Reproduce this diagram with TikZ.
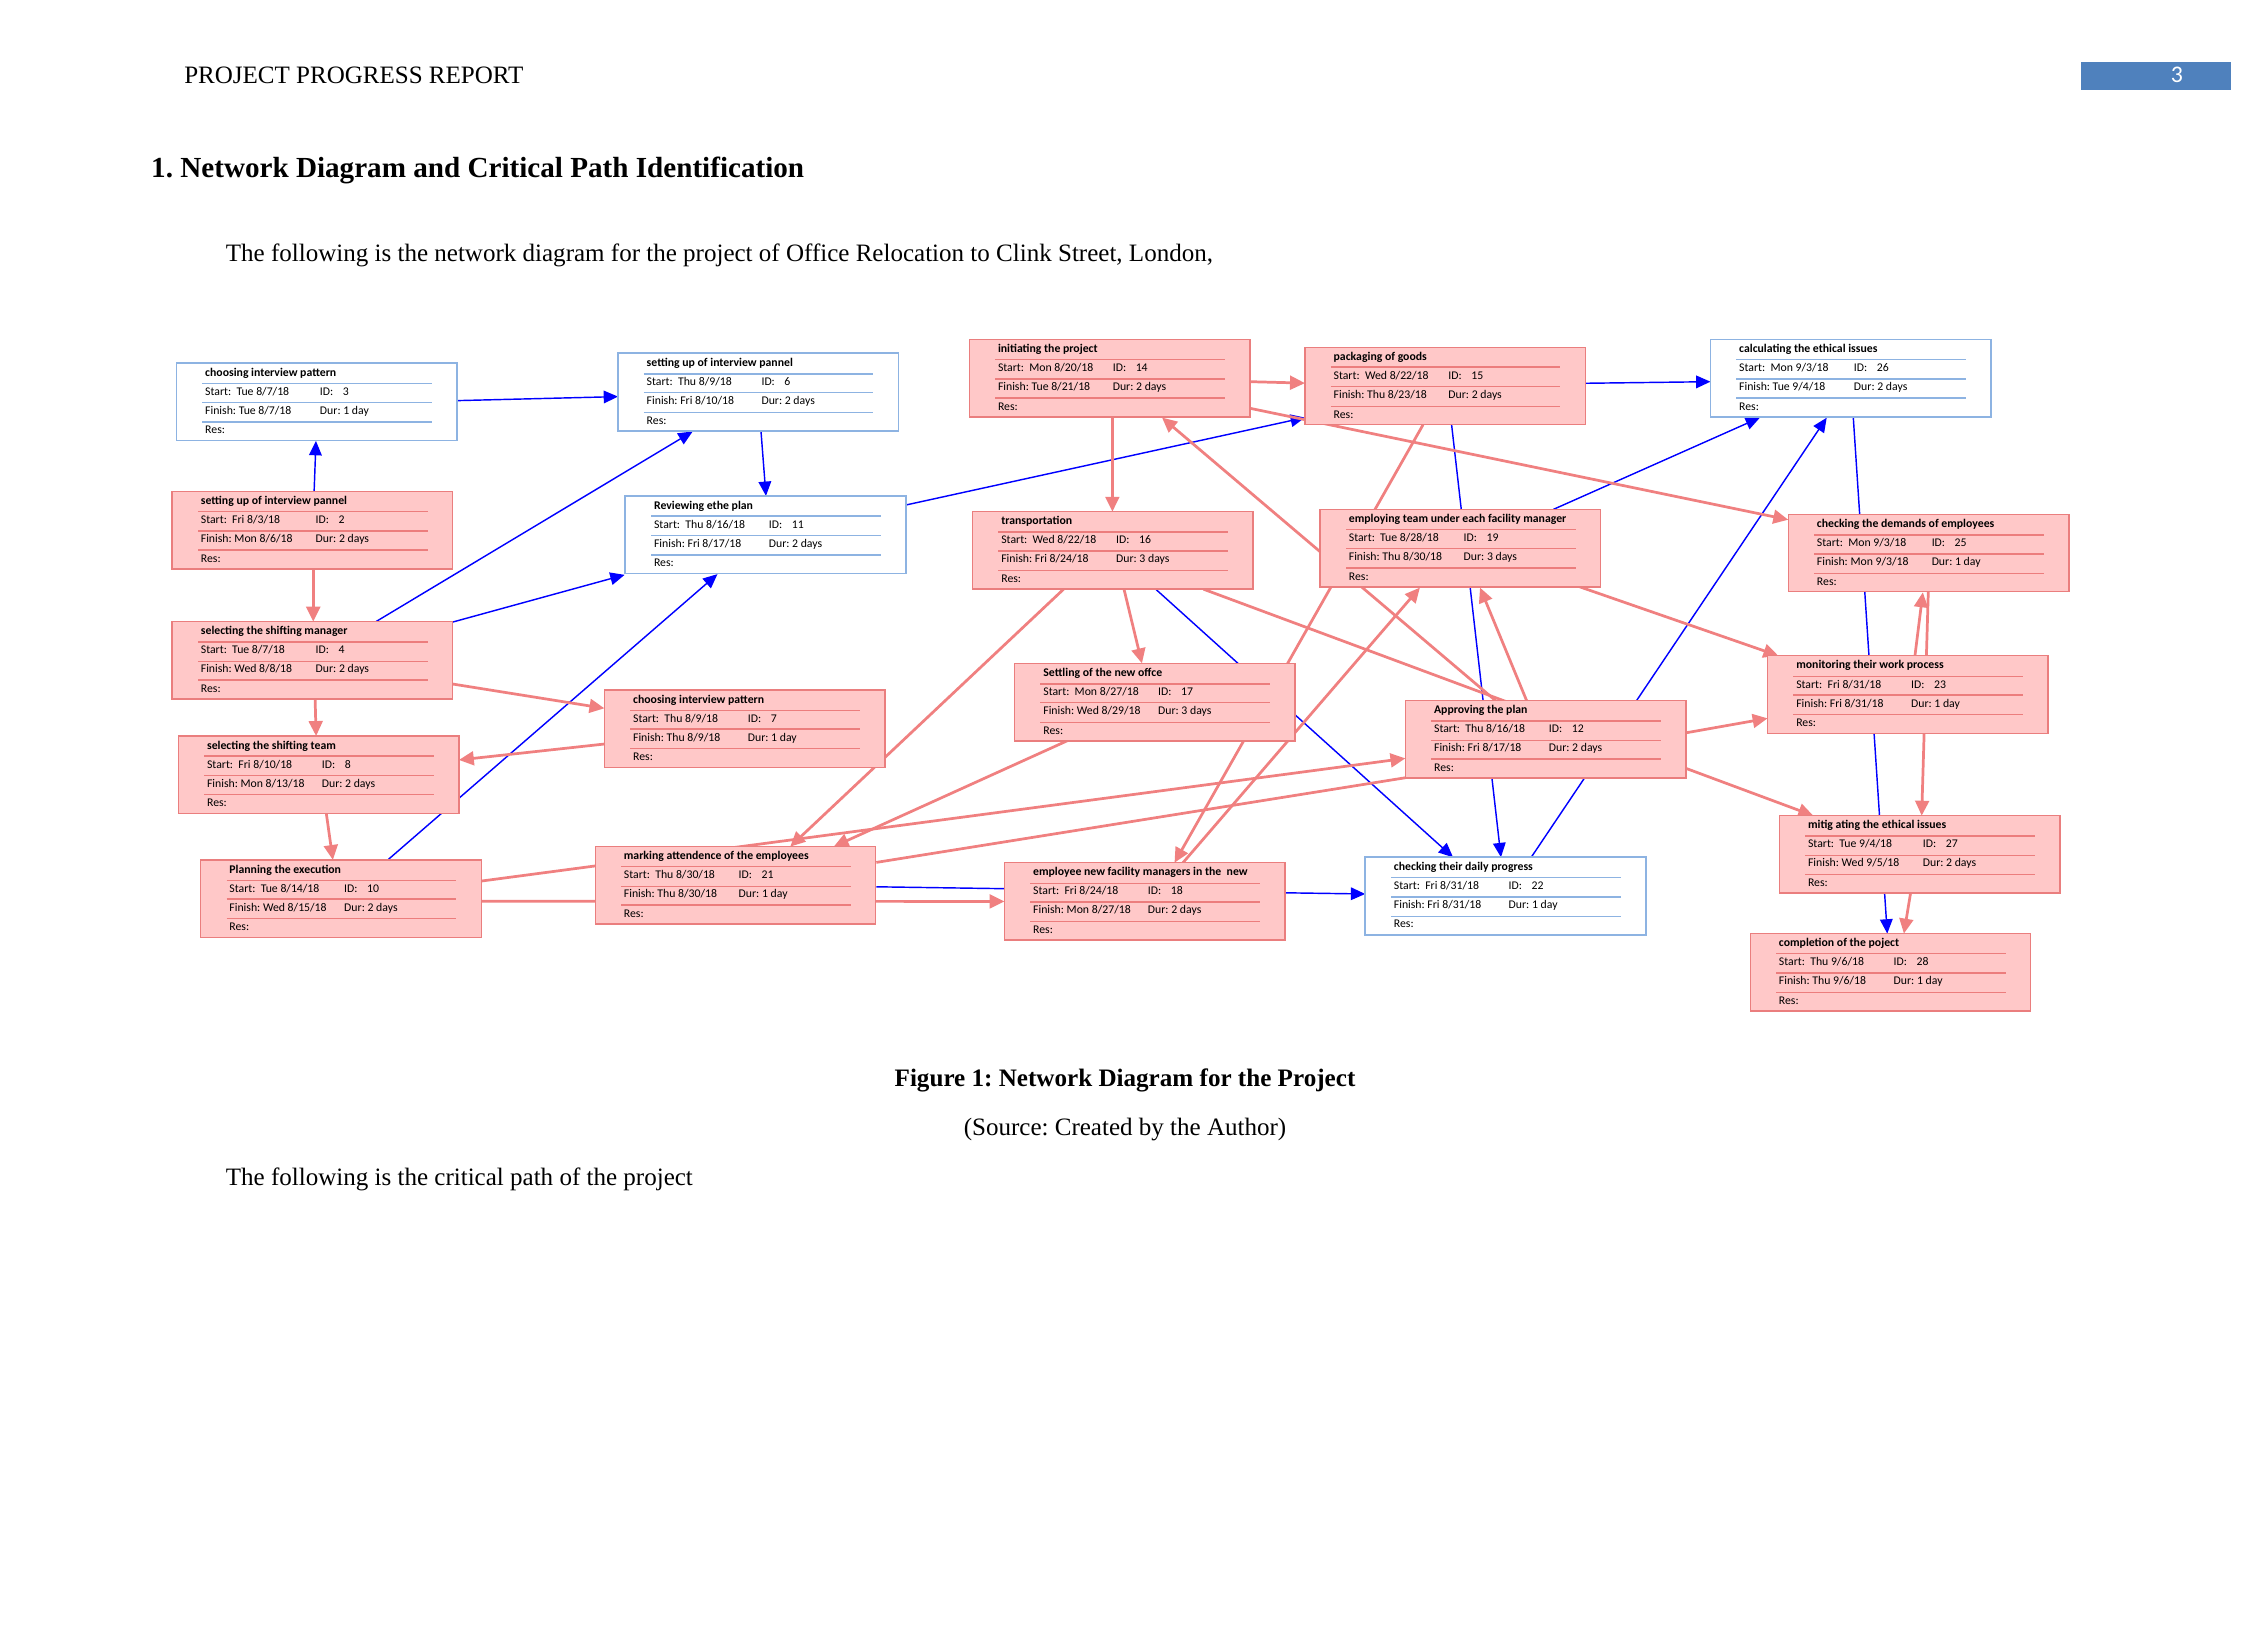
\documentclass[tikz,border=0pt]{standalone}
\usepackage{fontspec}
\setmainfont{Liberation Serif}
\newfontfamily\calib{Carlito}
\usetikzlibrary{arrows.meta,calc}
\frenchspacing
\definecolor{lcoral}{RGB}{240,128,128}
\definecolor{rfill}{RGB}{255,200,200}
\definecolor{rborder}{RGB}{234,126,126}
\definecolor{rline}{RGB}{236,125,125}
\definecolor{bborder}{RGB}{141,179,226}
\definecolor{bline}{RGB}{141,179,226}
\definecolor{pblue}{RGB}{0,0,255}
\definecolor{hblue}{RGB}{79,129,189}
\pgfdeclarelayer{bg}
\pgfdeclarelayer{lines}
\pgfsetlayers{bg,lines,main}
\tikzset{
  rbox/.style={draw=rborder, fill=rfill, line width=0.5pt, minimum width=97.75pt, minimum height=27pt, inner sep=0pt, outer sep=0pt, anchor=north west},
  bbox/.style={draw=bborder, fill=white, line width=0.6pt, minimum width=97.75pt, minimum height=27pt, inner sep=0pt, outer sep=0pt, anchor=north west},
  txt/.style={anchor=base west, inner sep=0pt, outer sep=0pt, font=\calib\fontsize{4.1}{5}\selectfont},
  ttl/.style={anchor=base west, inner sep=0pt, outer sep=0pt, font=\calib\bfseries\fontsize{4.1}{5}\selectfont},
  sepn/.style={line width=0.3pt},
  sepk/.style={line width=0.7pt},
  ba/.style={draw=pblue, line width=0.5pt, -{Triangle[length=5pt,width=4.4pt]}},
  ra/.style={draw=lcoral, line width=0.95pt, -{Triangle[length=5.2pt,width=4.8pt]}},
  rl/.style={draw=lcoral, line width=0.95pt},
  doc/.style={anchor=base west, inner sep=0pt, font=\fontsize{8.72}{10}\selectfont},
}
\newcommand\tbox[9]{%
  \node[#2] (#1) at (#3,#4) {};
  \node[ttl] (#1t) at ($(#1.north west)+(20,9.2)$) {#5};
  \node[txt] (#1s) at ($(#1.north west)+(20,22.5)$) {Start:\ \ #6};
  \node[txt] (#1i) at ($(#1.north west)+(100,22.5)$) {ID:};
  \node[txt] (#1n) at ($(#1.north west)+(116,22.5)$) {#7};
  \node[txt] (#1f) at ($(#1.north west)+(20,35.7)$) {Finish: #8};
  \node[txt] (#1d) at ($(#1.north west)+(100,35.7)$) {Dur: #9};
  \node[txt] (#1r) at ($(#1.north west)+(20,49.3)$) {Res:};
}
\newcommand\tlines[5]{%
  \draw[#2,sep#3] ($(#1.north west)+(18,14.1)$) -- ++(160,0);
  \draw[#2,sep#4] ($(#1.north west)+(18,27.4)$) -- ++(160,0);
  \draw[#2,sep#5] ($(#1.north west)+(18,40.9)$) -- ++(160,0);
}
\begin{document}
\begin{tikzpicture}[x=0.5pt,y=-0.5pt]
\begin{pgfonlayer}{bg}
\fill[white] (0,0) rectangle (1568,1150);
\end{pgfonlayer}
\useasboundingbox (0,0) rectangle (1568,1150);

% page text
\node[doc] (hdr) at (128,58) {PROJECT PROGRESS REPORT};
\node[fill=hblue, minimum width=52.25pt, minimum height=9.75pt, anchor=north west, inner sep=0pt] (pgbox) at (1450,42.5) {};
\node[text=white, inner sep=0pt, font=\calib\fontsize{8.3}{9}\selectfont] (pgnum) at (1517,52.5) {3};
\node[doc, font=\bfseries\fontsize{10.15}{12}\selectfont] (title) at (105,123.6) {1. Network Diagram and Critical Path Identification};
\node[doc] (intro) at (157,182) {The following is the network diagram for the project of Office Relocation to Clink Street, London,};
\node[doc, anchor=base, font=\bfseries\fontsize{8.75}{10}\selectfont] (cap) at (784,757) {Figure 1: Network Diagram for the Project};
\node[doc, anchor=base] (src) at (784,791) {(Source: Created by the Author)};
\node[doc] (outro) at (157,826) {The following is the critical path of the project};

% boxes
\tbox{b3}{bbox}{123}{253}{choosing interview pattern}{Tue 8/7/18}{3}{Tue 8/7/18}{1 day}
\tlines{b3}{bline}{n}{n}{k}
\tbox{b6}{bbox}{430.7}{246.2}{setting up of interview pannel}{Thu 8/9/18}{6}{Fri 8/10/18}{2 days}
\tlines{b6}{bline}{k}{n}{n}
\tbox{b14}{rbox}{675.5}{236.5}{initiating the project}{Mon 8/20/18}{14}{Tue 8/21/18}{2 days}
\tlines{b14}{rline}{n}{k}{k}
\tbox{b15}{rbox}{909.4}{242}{packaging of goods}{Wed 8/22/18}{15}{Thu 8/23/18}{2 days}
\tlines{b15}{rline}{k}{n}{n}
\tbox{b26}{bbox}{1192}{236.5}{calculating the ethical issues}{Mon 9/3/18}{26}{Tue 9/4/18}{2 days}
\tlines{b26}{bline}{n}{k}{k}
\tbox{b2}{rbox}{120}{342.6}{setting up of interview pannel}{Fri 8/3/18}{2}{Mon 8/6/18}{2 days}
\tlines{b2}{rline}{n}{k}{k}
\tbox{b11}{bbox}{435.8}{345.6}{Reviewing ethe plan}{Thu 8/16/18}{11}{Fri 8/17/18}{2 days}
\tlines{b11}{bline}{k}{n}{k}
\tbox{b16}{rbox}{677.8}{356.6}{transportation}{Wed 8/22/18}{16}{Fri 8/24/18}{3 days}
\tlines{b16}{rline}{k}{k}{n}
\tbox{b19}{rbox}{920}{355}{employing team under each facility manager}{Tue 8/28/18}{19}{Thu 8/30/18}{3 days}
\tlines{b19}{rline}{n}{n}{k}
\tbox{b25}{rbox}{1246.2}{358.4}{checking the demands of employees}{Mon 9/3/18}{25}{Mon 9/3/18}{1 day}
\tlines{b25}{rline}{k}{k}{n}
\tbox{b4}{rbox}{120}{433.2}{selecting the shifting manager}{Tue 8/7/18}{4}{Wed 8/8/18}{2 days}
\tlines{b4}{rline}{k}{n}{k}
\tbox{b17}{rbox}{707.1}{462.3}{Settling of the new offce}{Mon 8/27/18}{17}{Wed 8/29/18}{3 days}
\tlines{b17}{rline}{k}{n}{n}
\tbox{b23}{rbox}{1231.8}{457}{monitoring their work process}{Fri 8/31/18}{23}{Fri 8/31/18}{1 day}
\tlines{b23}{rline}{n}{k}{n}
\tbox{b7}{rbox}{421.2}{480.8}{choosing interview pattern}{Thu 8/9/18}{7}{Thu 8/9/18}{1 day}
\tlines{b7}{rline}{n}{k}{n}
\tbox{b12}{rbox}{979.4}{488.3}{Approving the plan}{Thu 8/16/18}{12}{Fri 8/17/18}{2 days}
\tlines{b12}{rline}{k}{n}{k}
\tbox{b8}{rbox}{124.3}{512.9}{selecting the shifting team}{Fri 8/10/18}{8}{Mon 8/13/18}{2 days}
\tlines{b8}{rline}{k}{n}{n}
\tbox{b27}{rbox}{1240}{568.4}{mitig ating the ethical issues}{Tue 9/4/18}{27}{Wed 9/5/18}{2 days}
\tlines{b27}{rline}{k}{n}{n}
\tbox{b21}{rbox}{414.8}{590}{marking attendence of the employees}{Thu 8/30/18}{21}{Thu 8/30/18}{1 day}
\tlines{b21}{rline}{n}{n}{k}
\tbox{b10}{rbox}{139.9}{599.3}{Planning the execution}{Tue 8/14/18}{10}{Wed 8/15/18}{2 days}
\tlines{b10}{rline}{n}{k}{n}
\tbox{b18}{rbox}{700}{601.2}{employee new facility managers in the\ \ new}{Fri 8/24/18}{18}{Mon 8/27/18}{2 days}
\tlines{b18}{rline}{n}{k}{n}
\tbox{b22}{bbox}{951.4}{597.4}{checking their daily progress}{Fri 8/31/18}{22}{Fri 8/31/18}{1 day}
\tlines{b22}{bline}{n}{k}{n}
\tbox{b28}{rbox}{1219.7}{650.6}{completion of the poject}{Thu 9/6/18}{28}{Thu 9/6/18}{1 day}
\tlines{b28}{rline}{n}{k}{n}

\begin{pgfonlayer}{lines}
% blue connectors
\draw[ba] ($(b3.north west)+(195.3,26.2)$) -- ($(b6.north west)+(0,30.2)$);
\draw[ba] ($(b2.north west)+(98.9,0)$) -- ($(b3.north west)+(97.2,54.3)$);
\draw[ba] ($(b4.north west)+(142,0)$) -- ($(b6.north west)+(52,54.5)$);
\draw[ba] ($(b4.north west)+(195.5,0.3)$) -- ($(b11.north west)+(-0.5,55)$);
\draw[ba] ($(b10.north west)+(130.3,0)$) -- ($(b11.north west)+(64.2,54.5)$);
\draw[ba] ($(b6.north west)+(99.6,54)$) -- ($(b11.north west)+(98,0)$);
\draw[ba] ($(b11.north west)+(195.2,6.4)$) -- ($(b15.north west)+(0,49)$);
\draw[ba] ($(b15.north west)+(195.4,25.1)$) -- ($(b26.north west)+(0,29.5)$);
\draw[ba] ($(b15.north west)+(102.2,54)$) -- ($(b22.north west)+(94.6,0)$);
\draw[ba] ($(b19.north west)+(162.5,0)$) -- ($(b26.north west)+(34.5,54.5)$);
\draw[ba] ($(b22.north west)+(115.7,0)$) -- ($(b26.north west)+(81,54.6)$);
\draw[ba] ($(b26.north west)+(99.5,54)$) -- ($(b28.north west)+(95.5,0)$);
\draw[ba] ($(b16.north west)+(127.6,54)$) -- ($(b22.north west)+(61.2,0)$);
\draw[ba] ($(b21.north west)+(196,28)$) -- ($(b22.north west)+(0,25.6)$);
% red connectors
\draw[ra] ($(b2.north west)+(98.3,54)$) -- ($(b4.north west)+(98.3,0)$);
\draw[ra] ($(b4.north west)+(99.6,54)$) -- ($(b8.north west)+(96,0)$);
\draw[ra] ($(b4.north west)+(195.5,43.5)$) -- ($(b7.north west)+(0,12.8)$);
\draw[ra] ($(b7.north west)+(0,37.7)$) -- ($(b8.north west)+(195.5,16.7)$);
\draw[ra] ($(b8.north west)+(103.1,54)$) -- ($(b10.north west)+(92.1,0)$);
\draw[ra] ($(b10.north west)+(195.5,14.7)$) -- ($(b12.north west)+(0,40.2)$);
\draw[ra] ($(b10.north west)+(195.5,28.7)$) -- ($(b18.north west)+(0,27)$);
\draw[rl] ($(b21.north west)+(195.9,11)$) -- ($(b12.north west)+(0,53.7)$);
\draw[ra] ($(b14.north west)+(195.9,29.5)$) -- ($(b15.north west)+(0,25)$);
\draw[ra] ($(b14.north west)+(195.9,48.1)$) -- ($(b25.north west)+(0,3.8)$);
\draw[ra] ($(b14.north west)+(99.7,54)$) -- ($(b16.north west)+(97.4,0)$);
\draw[ra] ($(b12.north west)+(62.9,0)$) -- ($(b14.north west)+(134.3,54.5)$);
\draw[ra] ($(b15.north west)+(82.3,54)$) -- ($(b18.north west)+(118.5,0)$);
\draw[ra] ($(b18.north west)+(124.4,0)$) -- ($(b19.north west)+(69.5,54.5)$);
\draw[ra] ($(b16.north west)+(105.5,54)$) -- ($(b17.north west)+(88.7,0)$);
\draw[ra] ($(b16.north west)+(63.4,54)$) -- ($(b21.north west)+(135.9,0)$);
\draw[ra] ($(b17.north west)+(36.5,54)$) -- ($(b21.north west)+(166.2,0)$);
\draw[ra] ($(b16.north west)+(160.9,54)$) -- ($(b27.north west)+(23.6,0)$);
\draw[ra] ($(b12.north west)+(84.5,0)$) -- ($(b19.north west)+(111.4,54.5)$);
\draw[ra] ($(b19.north west)+(181,54)$) -- ($(b23.north west)+(7.5,0)$);
\draw[ra] ($(b12.north west)+(195.5,22.4)$) -- ($(b23.north west)+(0,43.6)$);
\draw[ra] ($(b23.north west)+(102.7,0)$) -- ($(b25.north west)+(93.8,54.4)$);
\draw[ra] ($(b25.north west)+(97.6,54)$) -- ($(b27.north west)+(99.2,0)$);
\draw[ra] ($(b27.north west)+(91.5,53.6)$) -- ($(b28.north west)+(107.1,0)$);
\end{pgfonlayer}
\end{tikzpicture}
\end{document}
